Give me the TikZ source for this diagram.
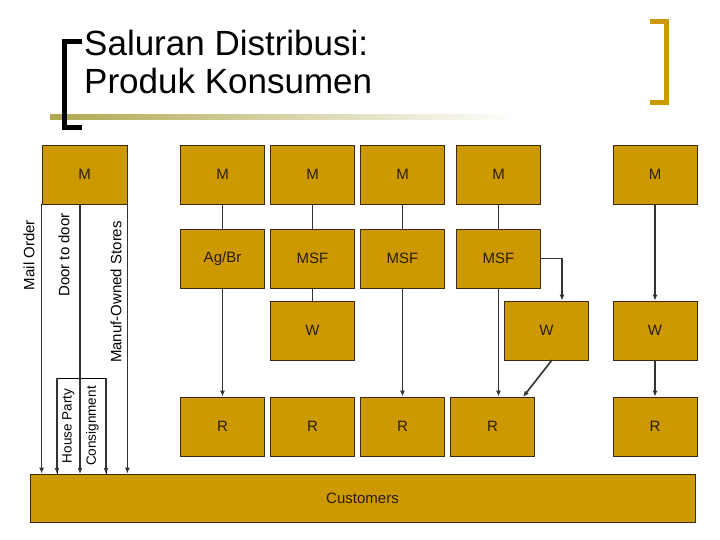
\documentclass[tikz,border=0pt]{standalone}
\usepackage{fontspec}
\setmainfont{Liberation Sans}
\begin{document}
\begin{tikzpicture}[x=1pt,y=-1pt,
  bx/.style={draw=boxline,fill=gold,line width=0.8pt,font=\fontsize{15}{15}\selectfont,text=boxtext},
  ln/.style={draw=lnc,line width=1.6pt},
  ar/.style={ln,-{Latex[length=6pt,width=5pt]}},
  lab/.style={rotate=90,font=\fontsize{15}{15}\selectfont,inner sep=0pt}]
\usetikzlibrary{arrows.meta}
\definecolor{gold}{HTML}{CC9900}
\definecolor{boxline}{HTML}{3A2A10}
\definecolor{boxtext}{HTML}{2A1E08}
\definecolor{lnc}{HTML}{333333}
\definecolor{olive}{HTML}{B0A850}
\useasboundingbox (0,0) rectangle (720,540);
% title decoration
\shade[left color=olive,right color=white] (50,115) rectangle (520,120);
\draw[line width=5pt] (82,42) -- (64,42) -- (64,128) -- (82,128);
\draw[line width=5pt,draw=gold] (650,22) -- (666,22) -- (666,103) -- (650,103);
\node[anchor=north west,align=left,font=\fontsize{35}{38}\selectfont,inner sep=0pt] (title) at (84,30) {Saluran Distribusi:\\Produk Konsumen};
% boxes
\newcommand{\bxat}[6]{\node[bx,minimum width=#3,minimum height=#4,inner sep=0pt] (#1) at (#2) {#5#6};}
\node[bx,minimum width=85,minimum height=59,inner sep=0pt] (m0) at (84.5,174.5) {M};
\foreach \n/\x in {m1/222.5,m2/312.5,m3/402.5,m4/498.5,m5/655}{
  \node[bx,minimum width=84,minimum height=59,inner sep=0pt] (\n) at (\x,174.5) {M};}
\node[bx,minimum width=84,minimum height=59,inner sep=0pt] (a1) at (222.5,258.5) {Ag/Br};
\foreach \n/\x in {s2/312.5,s3/402.5,s4/498.5}{
  \node[bx,minimum width=84,minimum height=59,inner sep=0pt] (\n) at (\x,258.5) {MSF};}
\foreach \n/\x in {w2/312.5,w4/546.5,w5/655}{
  \node[bx,minimum width=84,minimum height=59,inner sep=0pt] (\n) at (\x,330.5) {W};}
\foreach \n/\x in {r1/222.5,r2/312.5,r3/402.5,r4/492.5,r5/655}{
  \node[bx,minimum width=84,minimum height=59,inner sep=0pt] (\n) at (\x,426.5) {R};}
\node[bx,minimum width=665,minimum height=48,inner sep=0pt] (cu) at (362.5,498) {Customers};
% connectors
\draw[ln] (m1) -- (a1); \draw[ln] (m2) -- (s2); \draw[ln] (m3) -- (s3); \draw[ln] (m4) -- (s4);
\draw[ln] (s2) -- (w2);
\draw[ar] (a1) -- (r1);
\draw[ar] (s3) -- (r3);
\draw[ar] (s4.south) -- (s4.south |- r4.north);
\draw[ar] (s4.east) -| (w4.north -| 562,0) coordinate (w4t);
\draw[ar] (552,360) -- (523,397);
\draw[ar] (m5) -- (w5);
\draw[ar] (w5) -- (r5);
% left channels
\coordinate (hp) at (57,378);
\draw (57,474) -- (57,378) -- (106,378) -- (106,474);
\draw[ar] (m0.south west) -- (m0.south west |- cu.north);
\draw[ar,line width=2.2pt] (80,204) -- (80,474);
\draw[ar] (m0.south east) -- (m0.south east |- cu.north);
\draw[ar] (hp) -- (57,474);
\draw[ar] (106,378) -- (106,474);
\node[lab] (lmo) at (29,255) {Mail Order};
\node[lab] (ldd) at (64,255) {Door to door};
\node[lab] (lms) at (116,292) {Manuf-Owned Stores};
\node[lab,font=\fontsize{13.5}{14}\selectfont] (lhp) at (68.5,426) {House Party};
\node[lab,font=\fontsize{13.5}{14}\selectfont] (lcs) at (92.5,426) {Consignment};
\end{tikzpicture}
\end{document}
